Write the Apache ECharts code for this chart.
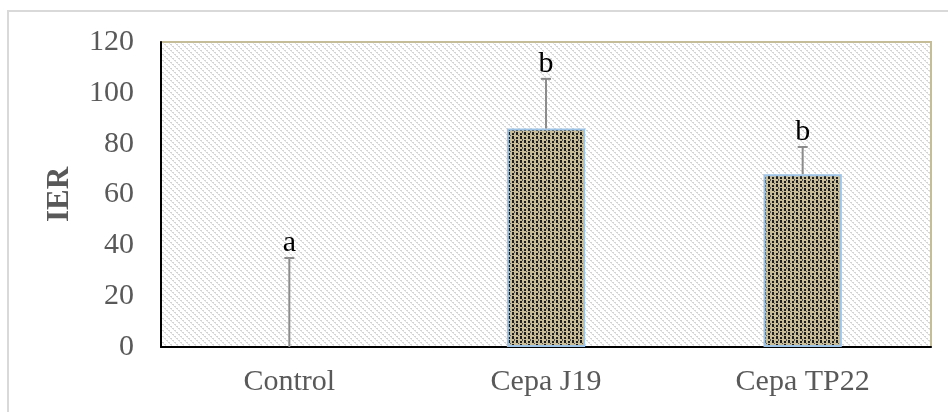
<!DOCTYPE html>
<html><head><meta charset="utf-8">
<script src="https://cdn.jsdelivr.net/npm/echarts@6/dist/echarts.min.js"></script>
<style>html,body{margin:0;padding:0;background:#fff}#c{width:948px;height:412px}</style>
</head><body><div id="c"></div>
<script>
var categories = ['Control', 'Cepa J19', 'Cepa TP22'];
var values = [0, 86, 68];
var errors = [35, 19.5, 10.7];
var letters = ['a', 'b', 'b'];
var yTicks = [0, 20, 40, 60, 80, 100, 120];

function hatchPattern() {
  var c = document.createElement('canvas'); c.width = 6; c.height = 6;
  var g = c.getContext('2d');
  g.fillStyle = '#ffffff'; g.fillRect(0, 0, 6, 6);
  g.fillStyle = '#d4d4d4';
  for (var i = 0; i < 6; i += 1) {
    if (i % 2 === 0) g.fillRect(i, i, 2, 1);
  }
  g.fillStyle = '#e4e4e4';
  g.fillRect(1, 1, 1, 1); g.fillRect(3, 3, 1, 1); g.fillRect(5, 5, 1, 1);
  return c;
}
function barPattern() {
  var c = document.createElement('canvas'); c.width = 8; c.height = 8;
  var g = c.getContext('2d');
  g.fillStyle = '#c8bd97'; g.fillRect(0, 0, 8, 8);
  g.fillStyle = '#1e1e1e';
  g.fillRect(0, 0, 2, 3); g.fillRect(0, 5, 2, 2);
  g.fillRect(4, 1, 2, 2); g.fillRect(4, 4, 2, 3);
  g.fillStyle = '#5a5648';
  g.fillRect(2, 3, 1, 2); g.fillRect(6, 7, 1, 1);
  return c;
}

var chart = echarts.init(document.getElementById('c'), null, {renderer: 'canvas'});
var serif = '"Liberation Serif", "Times New Roman", serif';
var barData = values.map(function (v) {
  return {value: v, itemStyle: {borderWidth: v === 0 ? 0 : 2}};
});
chart.setOption({
  animation: false,
  graphic: [{
    type: 'rect', z: -10, silent: true,
    shape: {x: 8, y: 11, width: 960, height: 420},
    style: {fill: '#ffffff', stroke: '#d9d9d9', lineWidth: 2}
  }],
  grid: {
    left: 161, right: 17, top: 42, bottom: 65,
    show: true,
    backgroundColor: {image: hatchPattern(), repeat: 'repeat'},
    borderColor: '#c4bd97', borderWidth: 2
  },
  xAxis: {
    type: 'category', data: categories,
    axisLine: {lineStyle: {color: '#000000', width: 2}},
    axisTick: {show: false},
    axisLabel: {fontFamily: serif, fontSize: 30, color: '#595959', margin: 20}
  },
  yAxis: {
    type: 'value', min: 0, max: 120, interval: 20,
    name: 'IER', nameLocation: 'middle', nameGap: 86, nameRotate: 90,
    nameTextStyle: {fontFamily: serif, fontSize: 31, fontWeight: 'bold', color: '#595959'},
    axisLine: {show: true, lineStyle: {color: '#000000', width: 2}},
    axisTick: {show: false},
    splitLine: {show: false},
    axisLabel: {fontFamily: serif, fontSize: 30, color: '#595959', margin: 27,
      formatter: function (v) { return yTicks.indexOf(v) >= 0 ? String(v) : ''; }}
  },
  series: [{
    type: 'bar', data: barData, barWidth: '30.5%',
    itemStyle: {color: {image: barPattern(), repeat: 'repeat'}, borderColor: '#9dc3e6'}
  }, {
    type: 'custom', z: 5,
    data: categories.map(function (c, i) { return [i, values[i], values[i] + errors[i]]; }),
    renderItem: function (params, api) {
      var base = api.coord([api.value(0), api.value(1)]);
      var top = api.coord([api.value(0), api.value(2)]);
      var i = params.dataIndex;
      return {
        type: 'group', children: [
          {type: 'line', shape: {x1: base[0], y1: base[1], x2: top[0], y2: top[1]}, style: {stroke: '#8c8c8c', lineWidth: 2}},
          {type: 'line', shape: {x1: top[0] - 5, y1: top[1], x2: top[0] + 5, y2: top[1]}, style: {stroke: '#8c8c8c', lineWidth: 2}},
          {type: 'text', x: top[0], y: top[1], style: {text: letters[i], fill: '#000000', font: '30px ' + serif, align: 'center', verticalAlign: 'bottom'}}
        ]
      };
    }
  }]
});
</script></body></html>
